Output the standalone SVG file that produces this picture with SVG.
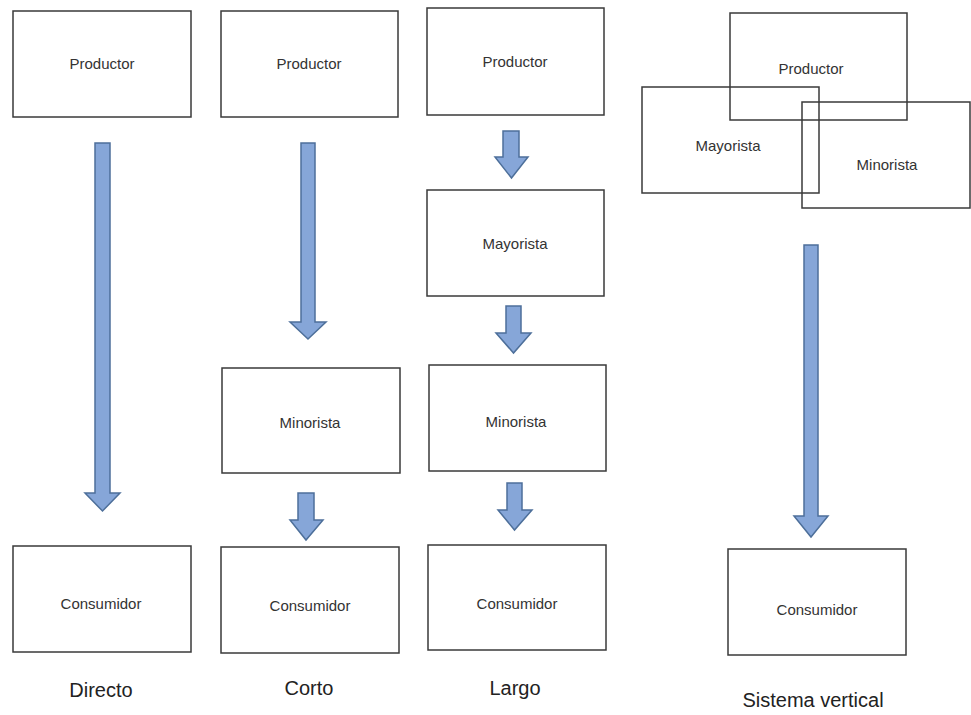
<svg xmlns="http://www.w3.org/2000/svg" width="971" height="715" viewBox="0 0 971 715">
<style>
.box{fill:none;stroke:#3a3a3a;stroke-width:1.5}
.t{font-family:"Liberation Sans",Arial,sans-serif;font-size:15px;fill:#333;text-anchor:middle}
.lbl{font-family:"Liberation Sans",Arial,sans-serif;font-size:20px;fill:#222;text-anchor:middle}
.arr{fill:#86a6d8;stroke:#4d6f9a;stroke-width:1.5;stroke-linejoin:miter}
</style>
<rect width="971" height="715" fill="#fff"/>
<g id="connectors">
<path class="arr" d="M95,143 H110 V493 H120 L102.5,511 L85,493 H95 Z"/>
<path class="arr" d="M301,143 H315 V322 H326 L308,339 L290,322 H301 Z"/>
<path class="arr" d="M503,131 H519 V157 H528 L511.5,178 L495,157 H503 Z"/>
<path class="arr" d="M506,306 H521 V333 H531 L513.5,353 L496,333 H506 Z"/>
<path class="arr" d="M298,493 H314 V520 H323 L306,540 L290,520 H298 Z"/>
<path class="arr" d="M507,483 H522 V510 H532 L514.5,530 L498,510 H507 Z"/>
<path class="arr" d="M804,245 H818 V516 H828 L811,537 L794,516 H804 Z"/>
</g>
<g id="directo-productor"><rect class="box" x="13" y="11" width="178" height="106"/><text class="t" x="102" y="69">Productor</text></g>
<g id="corto-productor"><rect class="box" x="221" y="11" width="177" height="106"/><text class="t" x="309" y="69">Productor</text></g>
<g id="largo-productor"><rect class="box" x="427" y="8" width="177" height="107"/><text class="t" x="515" y="67">Productor</text></g>
<g id="largo-mayorista"><rect class="box" x="427" y="190" width="177" height="106"/><text class="t" x="515" y="249">Mayorista</text></g>
<g id="corto-minorista"><rect class="box" x="222" y="368" width="178" height="105"/><text class="t" x="310" y="428">Minorista</text></g>
<g id="largo-minorista"><rect class="box" x="429" y="365" width="177" height="106"/><text class="t" x="516" y="427">Minorista</text></g>
<g id="directo-consumidor"><rect class="box" x="13" y="546" width="178" height="106"/><text class="t" x="101" y="609">Consumidor</text></g>
<g id="corto-consumidor"><rect class="box" x="221" y="547" width="178" height="106"/><text class="t" x="310" y="611">Consumidor</text></g>
<g id="largo-consumidor"><rect class="box" x="428" y="545" width="178" height="105"/><text class="t" x="517" y="609">Consumidor</text></g>
<g id="sv-productor"><rect class="box" x="730" y="13" width="177" height="107"/><text class="t" x="811" y="74">Productor</text></g>
<g id="sv-mayorista"><rect class="box" x="642" y="87" width="177" height="106"/><text class="t" x="728" y="151">Mayorista</text></g>
<g id="sv-minorista"><rect class="box" x="802" y="102" width="168" height="106"/><text class="t" x="887" y="170">Minorista</text></g>
<g id="sv-consumidor"><rect class="box" x="728" y="549" width="178" height="106"/><text class="t" x="817" y="615">Consumidor</text></g>
<g id="labels">
<text class="lbl" x="101" y="697">Directo</text>
<text class="lbl" x="309" y="695">Corto</text>
<text class="lbl" x="515" y="695">Largo</text>
<text class="lbl" x="813" y="707">Sistema vertical</text>
</g>
</svg>
